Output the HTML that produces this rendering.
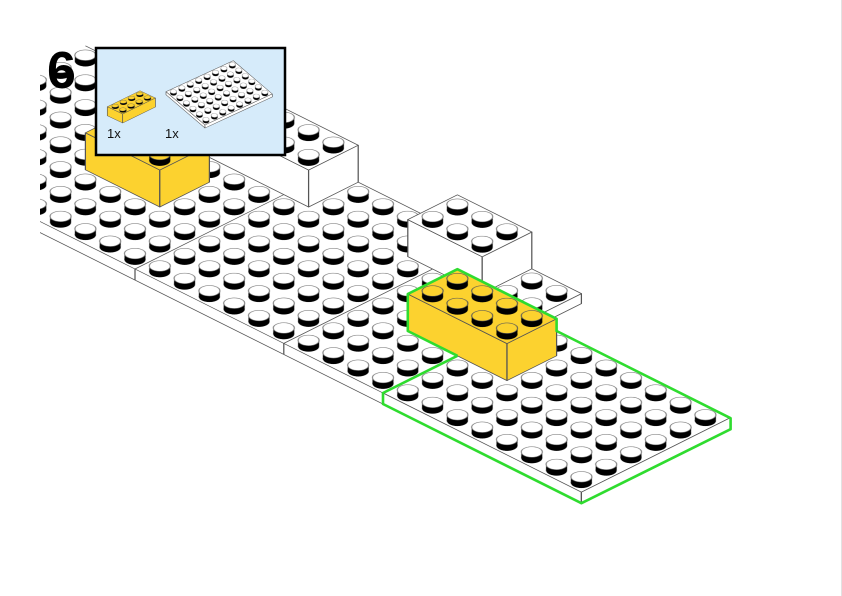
<!DOCTYPE html>
<html><head><meta charset="utf-8"><style>
html,body{margin:0;padding:0;background:#fff;width:842px;height:596px;overflow:hidden}
svg{display:block}
</style></head><body>
<svg width="842" height="596" viewBox="0 0 842 596" xmlns="http://www.w3.org/2000/svg">
<defs>
<pattern id="sw" patternUnits="userSpaceOnUse" width="1" height="1">
<rect width="1" height="1" fill="#fff"/>
<polygon points="0.167,0.409 0.591,0.833 0.833,0.591 0.409,0.167" fill="#000"/>
<circle cx="0.621" cy="0.379" r="0.3" fill="#000"/>
<circle cx="0.379" cy="0.621" r="0.3" fill="#fff" stroke="#777" stroke-width="0.03"/>
</pattern>
<pattern id="sy" patternUnits="userSpaceOnUse" width="1" height="1">
<rect width="1" height="1" fill="#fcd22f"/>
<polygon points="0.167,0.409 0.591,0.833 0.833,0.591 0.409,0.167" fill="#000"/>
<circle cx="0.621" cy="0.379" r="0.3" fill="#000"/>
<circle cx="0.379" cy="0.621" r="0.3" fill="#fcd22f" stroke="#555" stroke-width="0.03"/>
</pattern>
<pattern id="ssw" patternUnits="userSpaceOnUse" width="1" height="1">
<rect width="1" height="1" fill="#fff"/>
<polygon points="0.199,0.353 0.567,0.827 0.801,0.647 0.433,0.173" fill="#000"/>
<circle cx="0.617" cy="0.41" r="0.3" fill="#000"/>
<circle cx="0.383" cy="0.59" r="0.3" fill="#fff" stroke="#777" stroke-width="0.05"/>
</pattern>
<pattern id="ssy" patternUnits="userSpaceOnUse" width="1" height="1">
<rect width="1" height="1" fill="#fcd22f"/>
<polygon points="0.199,0.353 0.567,0.827 0.801,0.647 0.433,0.173" fill="#000"/>
<circle cx="0.617" cy="0.41" r="0.3" fill="#000"/>
<circle cx="0.383" cy="0.59" r="0.3" fill="#fcd22f" stroke="#555" stroke-width="0.05"/>
</pattern>
<clipPath id="clip"><rect x="40" y="0" width="800" height="596"/></clipPath>
</defs>

<line x1="841.5" y1="0" x2="841.5" y2="596" stroke="#e2e2e2" stroke-width="1"/>

<g clip-path="url(#clip)">
<g transform="matrix(24.8,12.4,24.8,-12.4,383,393)" stroke="#555" stroke-width="0.035" stroke-linejoin="round">
<!-- base -->
<rect x="-20" y="0" width="20" height="8" fill="url(#sw)" stroke="none"/>
<polygon points="-20,0 0,0 0.444,-0.444 -19.556,-0.444" fill="#fff"/>
<line x1="-10" y1="0" x2="-10" y2="8"/>
<line x1="-4" y1="0" x2="-4" y2="8"/>
<line x1="-10" y1="0" x2="-9.556" y2="-0.444"/>
<line x1="-4" y1="0" x2="-3.556" y2="-0.444"/>
<line x1="-20" y1="8" x2="0" y2="8"/>
<!-- green plate -->
<rect x="0" y="0" width="8" height="6" fill="url(#sw)"/>
<polygon points="0,0 8,0 8.444,-0.444 0.444,-0.444" fill="#fff"/>
<polygon points="8,0 8,6 8.444,5.556 8.444,-0.444" fill="#fff"/>
<!-- left white brick -->
<polygon points="-13,6 -9,6 -10.492,7.492 -14.492,7.492" fill="#fff"/>
<polygon points="-9,6 -9,8 -10.492,9.492 -10.492,7.492" fill="#fff"/>
<g transform="translate(-1.492,1.492)"><rect x="-13" y="6" width="4" height="2" fill="url(#sw)"/></g>
<!-- left yellow brick -->
<polygon points="-15,3 -12,3 -13.492,4.492 -16.492,4.492" fill="#fcd22f"/>
<polygon points="-12,3 -12,5 -13.492,6.492 -13.492,4.492" fill="#fcd22f"/>
<g transform="translate(-1.492,1.492)"><rect x="-15" y="3" width="3" height="2" fill="url(#sy)"/></g>
<!-- white 2x3 brick -->
<polygon points="-5,6 -2,6 -3.492,7.492 -6.492,7.492" fill="#fff"/>
<polygon points="-2,6 -2,8 -3.492,9.492 -3.492,7.492" fill="#fff"/>
<g transform="translate(-1.492,1.492)"><rect x="-5" y="6" width="3" height="2" fill="url(#sw)"/></g>
<!-- floating 2x2 plate -->
<polygon points="-1.605,5.605 0.395,5.605 -0.008,6.008 -2.008,6.008" fill="#fff"/>
<polygon points="0.395,5.605 0.395,7.605 -0.008,8.008 -0.008,6.008" fill="#fff"/>
<g transform="translate(-1.008,1.008)"><rect x="-1" y="5" width="2" height="2" fill="url(#sw)"/></g>
<!-- yellow brick -->
<polygon points="-2,3 2,3 0.508,4.492 -3.492,4.492" fill="#fcd22f"/>
<polygon points="2,3 2,5 0.508,6.492 0.508,4.492" fill="#fcd22f"/>
<g transform="translate(-1.492,1.492)"><rect x="-2" y="3" width="4" height="2" fill="url(#sy)"/></g>
</g>
<polyline points="457.4,355.8 407.8,331 407.8,294 457.4,269.2 556.6,318.8 556.6,331 730.6,418.2 730.6,429.2 581.4,503.2 383,404 383,393 457.4,355.8" fill="none" stroke="#2fdc2f" stroke-width="2.6" stroke-linejoin="round"/>
</g>

<!-- inset -->
<rect x="96" y="48" width="189" height="107" fill="#d6ebfa" stroke="#000" stroke-width="2.5"/>
<g transform="matrix(6.5,5.55,8.41,-3.88,166,91.7)" stroke="#555" stroke-width="0.06" stroke-linejoin="round">
<rect x="0" y="0" width="6" height="8" fill="url(#ssw)"/>
<polygon points="0,0 6,0 6.351,-0.271 0.351,-0.271" fill="#fff"/>
<polygon points="6,0 6,8 6.351,7.729 6.351,-0.271" fill="#fff"/>
</g>
<g transform="matrix(7.7,3.65,8.18,-4,107.3,106.7)" stroke="#555" stroke-width="0.06" stroke-linejoin="round">
<rect x="0" y="0" width="2" height="4" fill="url(#ssy)"/>
<polygon points="0,0 2,0 3.215,-1.143 1.215,-1.143" fill="#fcd22f"/>
<polygon points="2,0 2,4 3.215,2.857 3.215,-1.143" fill="#fcd22f"/>
</g>
<text x="107" y="138" font-family="Liberation Sans, sans-serif" font-size="13" fill="#111">1x</text>
<text x="165" y="138" font-family="Liberation Sans, sans-serif" font-size="13" fill="#111">1x</text>

<text x="47" y="88" font-family="Liberation Sans, sans-serif" font-size="52" font-weight="bold" fill="#000">6</text>
</svg>
</body></html>
